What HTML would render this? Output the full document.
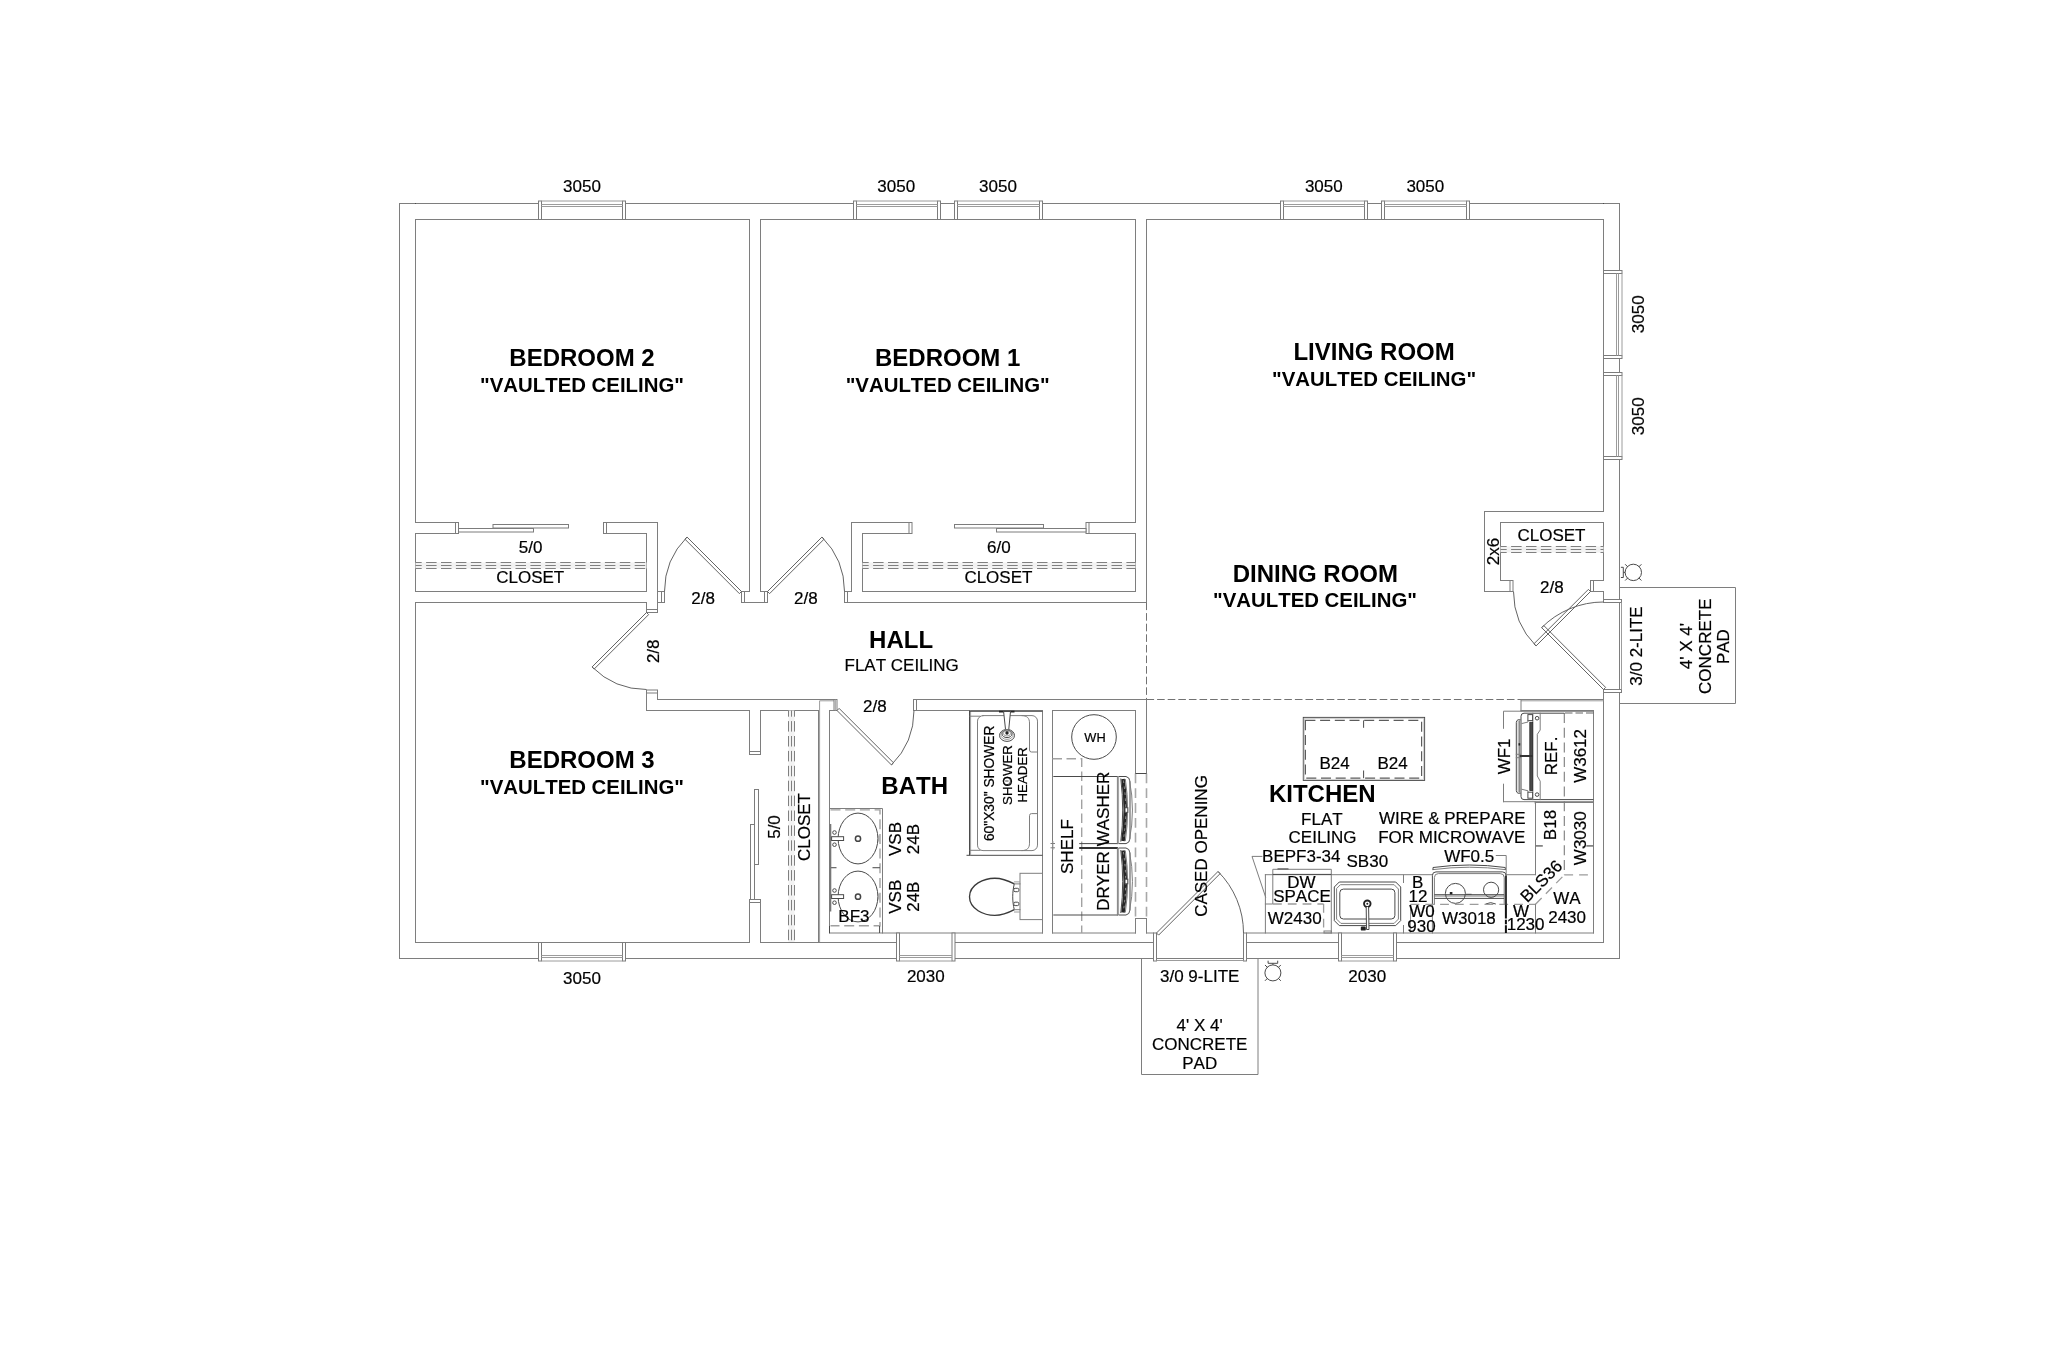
<!DOCTYPE html>
<html><head><meta charset="utf-8"><title>Floor Plan</title>
<style>
html,body{margin:0;padding:0;background:#fff;}
body{width:2048px;height:1347px;overflow:hidden;font-family:"Liberation Sans",sans-serif;}
svg{display:block;filter:grayscale(1);}
.l{stroke:#7e7e7e;stroke-width:1;fill:none;stroke-linecap:square;}
.kd{stroke:#646464;stroke-width:1;fill:none;}
.k{stroke:#4a4a4a;stroke-width:1;fill:none;}
.gl{stroke:#cfcfcf;stroke-width:1;fill:none;}
.g{stroke:#9c9c9c;stroke-width:1;fill:none;}
.d{stroke:#727272;stroke-width:1;fill:none;stroke-dasharray:7.6 3;}
.dg{stroke:#a8a8a8;stroke-width:1.6;fill:none;stroke-dasharray:9.8 5;}
.rod{stroke:#808080;stroke-width:1;fill:none;stroke-dasharray:10.5 4.4;}
.rf{stroke:none;fill:#f2f2f2;}
.w{stroke:#7c7c7c;stroke-width:1;fill:#fff;}
.wk{stroke:#4a4a4a;stroke-width:1;fill:#fff;}
.fk{stroke:none;fill:#222;}
.fg{stroke:#2a2a2a;stroke-width:0.8;fill:#4a4a4a;}
.kk{stroke:#222;stroke-width:1.8;fill:none;}
.thick{stroke:#262626;stroke-width:3.6;fill:none;}
.spk{stroke:#bbb;stroke-width:0.7;fill:none;stroke-dasharray:2.5 3.5;}
.thick2{stroke:#333;stroke-width:2;fill:none;}
.seat{stroke:#3a3a3a;stroke-width:1.35;fill:none;}
.bs{stroke:#777;stroke-width:2;fill:none;}
.dv{stroke:#a0a0a0;stroke-width:1.4;fill:none;stroke-dasharray:10 4.7;}
.dvi{stroke:#5c5c5c;stroke-width:1.2;fill:none;stroke-dasharray:10 4.7;}
.ring{stroke:#444;stroke-width:1.5;fill:none;}
.dv2{stroke:#555;stroke-width:1.1;fill:none;}
.dg2{stroke:#a2a2a2;stroke-width:1.4;fill:none;stroke-dasharray:9.5 4.5;}
.dl{stroke:#9c9c9c;stroke-width:1.3;fill:none;stroke-dasharray:8.8 6;}
.thick3{stroke:#777;stroke-width:1.6;fill:none;}
.dk{stroke:#666;stroke-width:1.2;fill:none;stroke-dasharray:7.5 3;}
.dlong{stroke:#7c7c7c;stroke-width:1.1;fill:none;stroke-dasharray:10 4.7;}
.tkd{stroke:#111;stroke-width:2;fill:none;stroke-dasharray:14.2 1.3 4.4 1;}
.t{font-family:"Liberation Sans",sans-serif;fill:#000;font-kerning:none;stroke:#000;stroke-width:0.2;}
.b{font-family:"Liberation Sans",sans-serif;font-weight:bold;fill:#000;font-kerning:none;}
</style></head>
<body>
<svg width="2048" height="1347" viewBox="0 0 2048 1347">
<rect x="0" y="0" width="2048" height="1347" fill="#fff"/>
<line class="l" x1="399.5" y1="203.5" x2="538.5" y2="203.5"/>
<line class="l" x1="625.5" y1="203.5" x2="853.5" y2="203.5"/>
<line class="l" x1="940.5" y1="203.5" x2="954.5" y2="203.5"/>
<line class="l" x1="1042.5" y1="203.5" x2="1280.5" y2="203.5"/>
<line class="l" x1="1367.5" y1="203.5" x2="1381.5" y2="203.5"/>
<line class="l" x1="1469.5" y1="203.5" x2="1619.5" y2="203.5"/>
<line class="l" x1="399.5" y1="958.5" x2="538.5" y2="958.5"/>
<line class="l" x1="625.5" y1="958.5" x2="896.5" y2="958.5"/>
<line class="l" x1="955" y1="958.5" x2="1153.5" y2="958.5"/>
<line class="l" x1="1246.5" y1="958.5" x2="1338.5" y2="958.5"/>
<line class="l" x1="1396.5" y1="958.5" x2="1619.5" y2="958.5"/>
<line class="l" x1="399.5" y1="203.5" x2="399.5" y2="958.5"/>
<line class="l" x1="1619.5" y1="203.5" x2="1619.5" y2="270.5"/>
<line class="l" x1="1619.5" y1="358.5" x2="1619.5" y2="372.5"/>
<line class="l" x1="1619.5" y1="459.5" x2="1619.5" y2="958.5"/>
<line class="k" x1="415.5" y1="203" x2="415.5" y2="204"/>
<line class="k" x1="1603.5" y1="203" x2="1603.5" y2="204"/>
<line class="l" x1="415.5" y1="219.5" x2="415.5" y2="522.5"/>
<line class="l" x1="415.5" y1="219.5" x2="749.5" y2="219.5"/>
<line class="l" x1="749.5" y1="219.5" x2="749.5" y2="591.5"/>
<line class="l" x1="415.5" y1="522.5" x2="458.5" y2="522.5"/>
<rect class="w" x="455.5" y="522.5" width="3" height="11"/>
<line class="l" x1="415.5" y1="533.5" x2="455.5" y2="533.5"/>
<line class="l" x1="415.5" y1="533.5" x2="415.5" y2="591.5"/>
<line class="l" x1="415.5" y1="591.5" x2="646.5" y2="591.5"/>
<line class="l" x1="646.5" y1="533.5" x2="646.5" y2="591.5"/>
<line class="l" x1="606.5" y1="533.5" x2="646.5" y2="533.5"/>
<rect class="w" x="603.5" y="522.5" width="3" height="11"/>
<line class="l" x1="606.5" y1="522.5" x2="657.5" y2="522.5"/>
<line class="l" x1="657.5" y1="522.5" x2="657.5" y2="612.5"/>
<rect class="w" x="458.5" y="528.5" width="75" height="3.5"/>
<rect class="w" x="493" y="524.5" width="75.5" height="3.5"/>
<rect class="rf" x="415.5" y="562.5" width="231" height="6"/>
<line class="rod" x1="415.5" y1="562.5" x2="646.5" y2="562.5" stroke-dashoffset="4.3"/>
<line class="rod" x1="415.5" y1="565.5" x2="646.5" y2="565.5" stroke-dashoffset="4.3"/>
<line class="rod" x1="415.5" y1="568.5" x2="646.5" y2="568.5" stroke-dashoffset="4.3"/>
<line class="l" x1="657.5" y1="591.5" x2="664.5" y2="591.5"/>
<line class="l" x1="657.5" y1="602.5" x2="664.5" y2="602.5"/>
<rect class="w" x="661.5" y="591.5" width="3" height="11"/>
<rect class="w" x="741.5" y="591.5" width="3" height="11"/>
<line class="l" x1="744.5" y1="591.5" x2="749.5" y2="591.5"/>
<line class="l" x1="744.5" y1="602.5" x2="764.5" y2="602.5"/>
<rect class="w" x="764.5" y="591.5" width="3" height="11"/>
<line class="l" x1="760.5" y1="591.5" x2="764.5" y2="591.5"/>
<path class="kd" d="M741.5 591.5 L687.05 537.05 L684.93 539.17 L739.38 593.62 Z"/>
<path class="kd" d="M687.05 537.05 A77 77 0 0 0 664.5 591.5"/>
<line class="l" x1="646.5" y1="602.5" x2="646.5" y2="612.5"/>
<rect class="w" x="646.5" y="609.5" width="11" height="3"/>
<line class="l" x1="415.5" y1="602.5" x2="646.5" y2="602.5"/>
<line class="l" x1="760.5" y1="219.5" x2="760.5" y2="591.5"/>
<line class="l" x1="760.5" y1="219.5" x2="1135.5" y2="219.5"/>
<line class="l" x1="1135.5" y1="219.5" x2="1135.5" y2="522.5"/>
<line class="l" x1="1089" y1="522.5" x2="1135.5" y2="522.5"/>
<rect class="w" x="1086" y="522.5" width="3" height="11"/>
<line class="l" x1="1089" y1="533.5" x2="1135.5" y2="533.5"/>
<line class="l" x1="1135.5" y1="533.5" x2="1135.5" y2="591.5"/>
<line class="l" x1="862.5" y1="591.5" x2="1135.5" y2="591.5"/>
<line class="l" x1="862.5" y1="533.5" x2="862.5" y2="591.5"/>
<line class="l" x1="862.5" y1="533.5" x2="909" y2="533.5"/>
<rect class="w" x="909" y="522.5" width="3" height="11"/>
<line class="l" x1="851.5" y1="522.5" x2="909" y2="522.5"/>
<line class="l" x1="851.5" y1="522.5" x2="851.5" y2="591.5"/>
<line class="l" x1="847.5" y1="591.5" x2="851.5" y2="591.5"/>
<rect class="w" x="844.5" y="591.5" width="3" height="11"/>
<line class="l" x1="847.5" y1="602.5" x2="1146.5" y2="602.5"/>
<rect class="w" x="954.5" y="524.5" width="89" height="3.5"/>
<rect class="w" x="996.5" y="528.5" width="89.5" height="3.5"/>
<rect class="rf" x="862.5" y="562.5" width="273" height="6"/>
<line class="rod" x1="862.5" y1="562.5" x2="1135.5" y2="562.5" stroke-dashoffset="4.3"/>
<line class="rod" x1="862.5" y1="565.5" x2="1135.5" y2="565.5" stroke-dashoffset="4.3"/>
<line class="rod" x1="862.5" y1="568.5" x2="1135.5" y2="568.5" stroke-dashoffset="4.3"/>
<path class="kd" d="M767.5 591.5 L821.95 537.05 L824.07 539.17 L769.62 593.62 Z"/>
<path class="kd" d="M821.95 537.05 A77 77 0 0 1 844.5 591.5"/>
<line class="l" x1="1146.5" y1="219.5" x2="1146.5" y2="602.5"/>
<line class="d" x1="1146.5" y1="602.5" x2="1146.5" y2="699.5"/>
<line class="l" x1="1146.5" y1="219.5" x2="1603.5" y2="219.5"/>
<line class="l" x1="1603.5" y1="219.5" x2="1603.5" y2="511.5"/>
<line class="l" x1="1484.5" y1="511.5" x2="1603.5" y2="511.5"/>
<line class="l" x1="1484.5" y1="511.5" x2="1484.5" y2="591.5"/>
<line class="l" x1="1484.5" y1="591.5" x2="1510" y2="591.5"/>
<rect class="w" x="1510" y="580.5" width="3" height="11"/>
<line class="l" x1="1500.5" y1="580.5" x2="1510" y2="580.5"/>
<line class="l" x1="1500.5" y1="522.5" x2="1500.5" y2="580.5"/>
<line class="l" x1="1500.5" y1="522.5" x2="1603.5" y2="522.5"/>
<line class="l" x1="1603.5" y1="522.5" x2="1603.5" y2="580.5"/>
<line class="l" x1="1593.5" y1="580.5" x2="1603.5" y2="580.5"/>
<rect class="w" x="1590.5" y="580.5" width="3" height="11"/>
<line class="l" x1="1593.5" y1="591.5" x2="1603.5" y2="591.5"/>
<line class="l" x1="1603.5" y1="591.5" x2="1603.5" y2="599.5"/>
<rect class="rf" x="1500.5" y="546.5" width="103" height="6"/>
<line class="rod" x1="1500.5" y1="546.5" x2="1603.5" y2="546.5" stroke-dashoffset="4.3"/>
<line class="rod" x1="1500.5" y1="549.5" x2="1603.5" y2="549.5" stroke-dashoffset="4.3"/>
<line class="rod" x1="1500.5" y1="552.5" x2="1603.5" y2="552.5" stroke-dashoffset="4.3"/>
<path class="kd" d="M1590.5 591.5 L1536.05 645.95 L1533.93 643.83 L1588.38 589.38 Z"/>
<path class="kd" d="M1536.05 645.95 A77 77 0 0 1 1513.5 591.5"/>
<rect class="w" x="1603.5" y="599.5" width="18" height="3"/>
<rect class="w" x="1603.5" y="689.5" width="18" height="3"/>
<line class="g" x1="1621.5" y1="602.5" x2="1621.5" y2="689.5"/>
<path class="kd" d="M1603.5 689.5 L1541.63 627.63 L1543.75 625.51 L1605.62 687.38 Z"/>
<path class="kd" d="M1541.63 627.63 A87.5 87.5 0 0 1 1603.5 602"/>
<line class="l" x1="1603.5" y1="692.5" x2="1603.5" y2="942.5"/>
<line class="d" x1="1146.5" y1="699.5" x2="1521" y2="699.5"/>
<line class="l" x1="1521" y1="699.5" x2="1603.5" y2="699.5"/>
<line class="g" x1="1521" y1="700.8" x2="1603.5" y2="700.8"/>
<line class="l" x1="1521" y1="699.5" x2="1521" y2="710.5"/>
<line class="l" x1="415.5" y1="602.5" x2="415.5" y2="942.5"/>
<line class="l" x1="415.5" y1="942.5" x2="749.5" y2="942.5"/>
<rect class="w" x="646.5" y="690" width="11" height="3"/>
<line class="l" x1="657.5" y1="693" x2="657.5" y2="699.5"/>
<line class="l" x1="657.5" y1="699.5" x2="834" y2="699.5"/>
<line class="l" x1="646.5" y1="693" x2="646.5" y2="710.5"/>
<line class="l" x1="646.5" y1="710.5" x2="749.5" y2="710.5"/>
<path class="kd" d="M646.5 612.5 L592.05 666.95 L594.17 669.07 L648.62 614.62 Z"/>
<path class="kd" d="M592.05 666.95 A77 77 0 0 0 646.5 689.5"/>
<line class="l" x1="749.5" y1="710.5" x2="749.5" y2="751.5"/>
<line class="l" x1="760.5" y1="710.5" x2="760.5" y2="751.5"/>
<rect class="w" x="749.5" y="751.5" width="11" height="3"/>
<rect class="w" x="749.5" y="899.5" width="11" height="3"/>
<line class="l" x1="749.5" y1="902.5" x2="749.5" y2="942.5"/>
<line class="l" x1="760.5" y1="902.5" x2="760.5" y2="942.5"/>
<rect class="w" x="754.5" y="789.5" width="4" height="75"/>
<rect class="w" x="750.5" y="824.5" width="4" height="75"/>
<line class="l" x1="760.5" y1="710.5" x2="818.5" y2="710.5"/>
<line class="l" x1="818.5" y1="710.5" x2="818.5" y2="942.5"/>
<line class="g" x1="819.6" y1="700.8" x2="819.6" y2="942.5"/>
<rect class="rf" x="788.5" y="710.5" width="6" height="232"/>
<line class="rod" x1="788.5" y1="710.5" x2="788.5" y2="942.5" stroke-dashoffset="4.3"/>
<line class="rod" x1="791.5" y1="710.5" x2="791.5" y2="942.5" stroke-dashoffset="4.3"/>
<line class="rod" x1="794.5" y1="710.5" x2="794.5" y2="942.5" stroke-dashoffset="4.3"/>
<line class="l" x1="760.5" y1="942.5" x2="896.5" y2="942.5"/>
<line class="l" x1="955" y1="942.5" x2="1153.5" y2="942.5"/>
<line class="l" x1="1246.5" y1="942.5" x2="1338.5" y2="942.5"/>
<line class="l" x1="1396.5" y1="942.5" x2="1603.5" y2="942.5"/>
<line class="g" x1="819.6" y1="700.8" x2="834" y2="700.8"/>
<rect class="w" x="834" y="699.5" width="3" height="11"/>
<line class="g" x1="835.3" y1="699.5" x2="835.3" y2="710.5"/>
<line class="l" x1="829.5" y1="710.5" x2="834" y2="710.5"/>
<line class="l" x1="829.5" y1="710.5" x2="829.5" y2="933"/>
<line class="l" x1="829.5" y1="933" x2="1042.5" y2="933"/>
<line class="l" x1="1042.5" y1="710.5" x2="1042.5" y2="933"/>
<rect class="w" x="913.5" y="699.5" width="3" height="11"/>
<line class="l" x1="916.5" y1="699.5" x2="1146.5" y2="699.5"/>
<line class="l" x1="916.5" y1="710.5" x2="1042.5" y2="710.5"/>
<path class="kd" d="M837 710.5 L891.45 764.95 L893.57 762.83 L839.12 708.38 Z"/>
<path class="kd" d="M891.45 764.95 A77 77 0 0 0 914 710.5"/>
<line class="l" x1="1052.5" y1="710.5" x2="1135.5" y2="710.5"/>
<line class="l" x1="1052.5" y1="710.5" x2="1052.5" y2="933"/>
<line class="l" x1="1052.5" y1="933" x2="1135.5" y2="933"/>
<line class="l" x1="1135.5" y1="710.5" x2="1135.5" y2="773.5"/>
<line class="dg" x1="1135.5" y1="773.5" x2="1135.5" y2="918.5"/>
<line class="l" x1="1135.5" y1="918.5" x2="1135.5" y2="933"/>
<line class="l" x1="1146.5" y1="699.5" x2="1146.5" y2="773.5"/>
<line class="dg" x1="1146.5" y1="773.5" x2="1146.5" y2="918.5"/>
<line class="l" x1="1146.5" y1="918.5" x2="1146.5" y2="933"/>
<line class="k" x1="1135.5" y1="773.5" x2="1146.5" y2="773.5"/>
<line class="l" x1="1135.5" y1="918.5" x2="1146.5" y2="918.5"/>
<line class="l" x1="1146.5" y1="933" x2="1153.5" y2="933"/>
<rect class="w" x="1153.5" y="933" width="3" height="28"/>
<rect class="w" x="1243.5" y="933" width="3" height="28"/>
<line class="l" x1="1156.5" y1="958.5" x2="1243.5" y2="958.5"/>
<line class="g" x1="1156.5" y1="960.5" x2="1243.5" y2="960.5"/>
<path class="kd" d="M1156.5 933 L1218.02 871.48 L1220.14 873.6 L1158.62 935.12 Z"/>
<path class="kd" d="M1218.02 871.48 A87 87 0 0 1 1243.5 933"/>
<line class="l" x1="1246.5" y1="933" x2="1593.5" y2="933"/>
<line class="l" x1="1593.5" y1="710.5" x2="1593.5" y2="933"/>
<line class="l" x1="1521" y1="710.5" x2="1593.5" y2="710.5"/>
<rect class="w" x="538.5" y="201" width="3" height="18.5"/>
<rect class="w" x="622.5" y="201" width="3" height="18.5"/>
<line class="g" x1="541.5" y1="201" x2="622.5" y2="201"/>
<line class="g" x1="541.5" y1="204.5" x2="622.5" y2="204.5"/>
<line class="g" x1="541.5" y1="206.5" x2="622.5" y2="206.5"/>
<rect class="w" x="853.5" y="201" width="3" height="18.5"/>
<rect class="w" x="937.5" y="201" width="3" height="18.5"/>
<line class="g" x1="856.5" y1="201" x2="937.5" y2="201"/>
<line class="g" x1="856.5" y1="204.5" x2="937.5" y2="204.5"/>
<line class="g" x1="856.5" y1="206.5" x2="937.5" y2="206.5"/>
<rect class="w" x="954.5" y="201" width="3" height="18.5"/>
<rect class="w" x="1039.5" y="201" width="3" height="18.5"/>
<line class="g" x1="957.5" y1="201" x2="1039.5" y2="201"/>
<line class="g" x1="957.5" y1="204.5" x2="1039.5" y2="204.5"/>
<line class="g" x1="957.5" y1="206.5" x2="1039.5" y2="206.5"/>
<rect class="w" x="1280.5" y="201" width="3" height="18.5"/>
<rect class="w" x="1364.5" y="201" width="3" height="18.5"/>
<line class="g" x1="1283.5" y1="201" x2="1364.5" y2="201"/>
<line class="g" x1="1283.5" y1="204.5" x2="1364.5" y2="204.5"/>
<line class="g" x1="1283.5" y1="206.5" x2="1364.5" y2="206.5"/>
<rect class="w" x="1381.5" y="201" width="3" height="18.5"/>
<rect class="w" x="1466.5" y="201" width="3" height="18.5"/>
<line class="g" x1="1384.5" y1="201" x2="1466.5" y2="201"/>
<line class="g" x1="1384.5" y1="204.5" x2="1466.5" y2="204.5"/>
<line class="g" x1="1384.5" y1="206.5" x2="1466.5" y2="206.5"/>
<rect class="w" x="538.5" y="942.5" width="3" height="18.5"/>
<rect class="w" x="622.5" y="942.5" width="3" height="18.5"/>
<line class="g" x1="541.5" y1="961" x2="622.5" y2="961"/>
<line class="g" x1="541.5" y1="957.5" x2="622.5" y2="957.5"/>
<line class="g" x1="541.5" y1="955.5" x2="622.5" y2="955.5"/>
<rect class="w" x="896.5" y="933" width="3" height="28"/>
<rect class="w" x="952" y="933" width="3" height="28"/>
<line class="g" x1="899.5" y1="961" x2="952" y2="961"/>
<line class="g" x1="899.5" y1="957.5" x2="952" y2="957.5"/>
<line class="g" x1="899.5" y1="955.5" x2="952" y2="955.5"/>
<rect class="w" x="1338.5" y="933" width="3" height="28"/>
<rect class="w" x="1393.5" y="933" width="3" height="28"/>
<line class="g" x1="1341.5" y1="961" x2="1393.5" y2="961"/>
<line class="g" x1="1341.5" y1="957.5" x2="1393.5" y2="957.5"/>
<line class="g" x1="1341.5" y1="955.5" x2="1393.5" y2="955.5"/>
<rect class="w" x="1603.5" y="270.5" width="18.5" height="3"/>
<rect class="w" x="1603.5" y="355.5" width="18.5" height="3"/>
<line class="g" x1="1622" y1="273.5" x2="1622" y2="355.5"/>
<line class="g" x1="1618.5" y1="273.5" x2="1618.5" y2="355.5"/>
<line class="g" x1="1616.5" y1="273.5" x2="1616.5" y2="355.5"/>
<rect class="w" x="1603.5" y="372.5" width="18.5" height="3"/>
<rect class="w" x="1603.5" y="456.5" width="18.5" height="3"/>
<line class="g" x1="1622" y1="375.5" x2="1622" y2="456.5"/>
<line class="g" x1="1618.5" y1="375.5" x2="1618.5" y2="456.5"/>
<line class="g" x1="1616.5" y1="375.5" x2="1616.5" y2="456.5"/>
<path class="l" d="M1141.5 958.5 L1141.5 1074.5 L1258 1074.5 L1258 958.5"/>
<line class="l" x1="1141.5" y1="958.5" x2="1153.5" y2="958.5"/>
<line class="l" x1="1246.5" y1="958.5" x2="1258" y2="958.5"/>
<path class="l" d="M1619.5 587.5 L1735.5 587.5 L1735.5 703.5 L1619.5 703.5"/>
<path class="l" d="M829.5 808.5 L882.5 808.5 L882.5 933"/>
<path class="dv" d="M830.5 809.9 L880 809.9 L880 925.7 L830.5 925.7"/>
<line class="k" x1="879.6" y1="926" x2="879.6" y2="933"/>
<line class="k" x1="829.5" y1="926" x2="829.5" y2="933"/>
<line class="dv2" x1="831" y1="867.7" x2="836.5" y2="867.7"/>
<line class="dv2" x1="872.5" y1="867.7" x2="880" y2="867.7"/>
<line class="bs" x1="830.3" y1="824" x2="830.3" y2="911.5"/>
<ellipse class="k" cx="858" cy="838.5" rx="19.9" ry="25.4"/>
<circle class="ring" cx="858" cy="838.7" r="2.6"/>
<rect class="wk" x="831.6" y="836.7" width="12" height="3.8"/>
<circle class="k" cx="834.5" cy="832.5" r="1.8"/>
<circle class="k" cx="834.5" cy="844.7" r="1.8"/>
<line class="g" x1="878.8" y1="835.5" x2="878.8" y2="841.5"/>
<ellipse class="k" cx="858" cy="896.5" rx="19.9" ry="25.4"/>
<circle class="ring" cx="858" cy="896.7" r="2.6"/>
<rect class="wk" x="831.6" y="894.7" width="12" height="3.8"/>
<circle class="k" cx="834.5" cy="890.5" r="1.8"/>
<circle class="k" cx="834.5" cy="902.7" r="1.8"/>
<line class="g" x1="878.8" y1="893.5" x2="878.8" y2="899.5"/>
<rect class="l" x="1020" y="873.3" width="22.5" height="46.3"/>
<path class="seat" d="M1014.3 883.9 C1008 880.5 1001 878.2 994.8 878.2 C984 878.2 969.5 884.5 969.5 896.8 C969.5 909.1 984 915.4 994.8 915.4 C1001 915.4 1008 913.1 1014.3 909.7"/>
<path class="k" d="M1014.3 883.9 C1012.2 892 1012.2 901.6 1014.3 909.7"/>
<path class="l" d="M1014.3 883.9 L1020 883.9 M1014.3 909.7 L1020 909.7"/>
<line class="g" x1="1014" y1="881.9" x2="1020" y2="881.9"/>
<line class="g" x1="1014" y1="912" x2="1020" y2="912"/>
<rect class="wk" x="1013.8" y="888.3" width="5" height="3.4" rx="1.3"/>
<rect class="wk" x="1013.8" y="902.2" width="5" height="3.4" rx="1.3"/>
<line class="k" x1="966.5" y1="855.3" x2="1042.5" y2="855.3"/>
<line class="k" x1="969.5" y1="710.5" x2="969.5" y2="855.3"/>
<line class="g" x1="970.6" y1="710.5" x2="970.6" y2="855.3"/>
<line class="k" x1="969.5" y1="711.3" x2="1042.5" y2="711.3"/>
<line class="l" x1="970" y1="716.2" x2="980" y2="716.2"/>
<line class="l" x1="970" y1="850.3" x2="980" y2="850.3"/>
<rect class="l" x="977.5" y="715.6" width="60" height="135" rx="5.5"/>
<path class="l" d="M1022 715.6 C1027 715.6 1029.5 718 1029.5 723 L1029.5 750 Q1029.5 752 1031.5 752 L1037.5 752"/>
<path class="l" d="M1022 850.6 C1027 850.6 1029.5 848.2 1029.5 843.2 L1029.5 815.6 Q1029.5 813.6 1031.5 813.6 L1037.5 813.6"/>
<line class="kk" x1="999" y1="711.6" x2="1014.5" y2="711.6"/>
<path class="wk" d="M1003.6 711.5 L1010.5 711.5 L1008.6 731 L1005.7 731 Z"/>
<ellipse class="k" cx="1007" cy="735.4" rx="7.5" ry="6"/>
<ellipse class="g" cx="1007" cy="734.6" rx="6.2" ry="4.8"/>
<ellipse class="k" cx="1007" cy="733.9" rx="5" ry="3.7"/>
<ellipse class="g" cx="1007" cy="733.3" rx="3.6" ry="2.7"/>
<circle class="fk" cx="1007" cy="733" r="1.7"/>
<circle class="k" cx="1006.8" cy="781" r="3.7"/>
<line class="k" x1="1005.2" y1="781" x2="1008.5" y2="781"/>
<circle class="k" cx="1094" cy="737" r="22.3"/>
<path class="dg2" d="M1052.5 758.8 L1081.7 758.8 L1081.7 933"/>
<line class="k" x1="1053.3" y1="776.5" x2="1118" y2="776.5"/>
<line class="k" x1="1079.2" y1="843.6" x2="1118" y2="843.6"/>
<line class="l" x1="1117.4" y1="776.5" x2="1117.4" y2="843.6"/>
<line class="g" x1="1118.6" y1="776.5" x2="1118.6" y2="843.6"/>
<path class="k" d="M1118.5 776.5 L1126 776.5 Q1129.5 777 1130 781.5 L1130 838.6 Q1129.5 843.1 1126 843.6 L1118.5 843.6"/>
<path class="l" d="M1129.5 780.5 Q1135.5 810.05 1129.5 839.6"/>
<path class="thick" d="M1123 779 Q1127.6 810.05 1123 841.1"/>
<path class="spk" d="M1123.4 780.5 Q1128 810.05 1123.4 839.6"/>
<path class="k" d="M1120.8 778.5 Q1124.6 810.05 1120.8 841.6"/>
<path class="l" d="M1125.4 779.5 Q1130 810.05 1125.4 840.6"/>
<rect class="wk" x="1125" y="807.75" width="2.8" height="4.6"/>
<line class="thick2" x1="1079.2" y1="848" x2="1118" y2="848"/>
<line class="k" x1="1053.3" y1="915" x2="1118" y2="915"/>
<line class="l" x1="1117.4" y1="848" x2="1117.4" y2="915"/>
<line class="g" x1="1118.6" y1="848" x2="1118.6" y2="915"/>
<path class="k" d="M1118.5 848 L1126 848 Q1129.5 848.5 1130 853 L1130 910 Q1129.5 914.5 1126 915 L1118.5 915"/>
<path class="l" d="M1129.5 852 Q1135.5 881.5 1129.5 911"/>
<path class="thick" d="M1123 850.5 Q1127.6 881.5 1123 912.5"/>
<path class="spk" d="M1123.4 852 Q1128 881.5 1123.4 911"/>
<path class="k" d="M1120.8 850 Q1124.6 881.5 1120.8 913"/>
<path class="l" d="M1125.4 851 Q1130 881.5 1125.4 912"/>
<rect class="wk" x="1125" y="879.2" width="2.8" height="4.6"/>
<line class="g" x1="1052.9" y1="841" x2="1052.9" y2="850"/>
<line class="l" x1="1051" y1="843.5" x2="1054.5" y2="843.5"/>
<line class="l" x1="1051" y1="847.8" x2="1054.5" y2="847.8"/>
<rect class="k" x="1303.3" y="717.4" width="121.3" height="63"/>
<rect class="gl" x="1304.3" y="718.4" width="119.3" height="61"/>
<rect class="dvi" x="1305.4" y="720.4" width="116.2" height="57.8"/>
<line class="k" x1="1363.6" y1="720.4" x2="1363.6" y2="727.8"/>
<line class="k" x1="1363.6" y1="770.5" x2="1363.6" y2="778.2"/>
<line class="l" x1="1265.4" y1="874.7" x2="1265.4" y2="933"/>
<line class="l" x1="1265.4" y1="874.7" x2="1432.3" y2="874.7"/>
<line class="l" x1="1506.2" y1="874.7" x2="1535.5" y2="874.7"/>
<line class="l" x1="1535.5" y1="802.5" x2="1535.5" y2="874.7"/>
<line class="l" x1="1535.5" y1="802.5" x2="1593.5" y2="802.5"/>
<path class="l" d="M1265.4 904 L1272.8 904 L1272.8 869.3 L1331.3 869.3 L1331.3 933"/>
<line class="k" x1="1272.8" y1="874.4" x2="1331.3" y2="874.4"/>
<line class="dl" x1="1273" y1="904" x2="1323.6" y2="904"/>
<line class="dl" x1="1323.6" y1="904" x2="1323.6" y2="933"/>
<rect class="l" x="1324" y="931" width="7.3" height="2"/>
<line class="k" x1="1277.5" y1="868.9" x2="1288.5" y2="868.9"/>
<path class="l" d="M1261.9 856.4 L1252 856.4 L1265.6 897"/>
<path class="k" d="M1339.3 882 L1395.7 882 L1400.7 887 L1400.7 920.6 L1395.7 925.6 L1339.3 925.6 L1334.3 920.6 L1334.3 887 Z"/>
<path class="l" d="M1340.9 884.7 L1394.1 884.7 L1398.4 889 L1398.4 919.1 L1394.1 923.4 L1340.9 923.4 L1336.6 919.1 L1336.6 889 Z"/>
<rect class="k" x="1339.8" y="889.1" width="55.1" height="29.9" rx="3.6"/>
<circle class="kk" cx="1367.3" cy="903.8" r="3.3"/>
<circle class="fk" cx="1367.3" cy="903.8" r="1"/>
<path class="wk" d="M1366.2 907 L1366.5 929.5 L1369 929.5 L1368.6 907"/>
<rect class="fk" x="1360.8" y="926.6" width="5" height="4" rx="1.2"/>
<line class="l" x1="1403.5" y1="875" x2="1403.5" y2="882.5"/>
<line class="l" x1="1403.5" y1="925.5" x2="1403.5" y2="933"/>
<path class="k" d="M1433 867.5 Q1469.5 862.5 1505.3 867.5"/>
<path class="l" d="M1433 869.6 Q1469.5 864.8 1505.3 869.6"/>
<line class="k" x1="1433" y1="867.5" x2="1433" y2="869.8"/>
<line class="k" x1="1505.3" y1="867.5" x2="1505.3" y2="869.8"/>
<path class="k" d="M1432.4 904.3 L1432.4 875.5 Q1432.4 871.9 1436 871.9 L1502.5 871.9 Q1506.1 871.9 1506.1 875.5 L1506.1 904.3"/>
<path class="l" d="M1434.4 904.3 L1434.4 877.5 Q1434.4 873.6 1438.4 873.6 L1500.2 873.6 Q1504.2 873.6 1504.2 877.5 L1504.2 904.3"/>
<line class="k" x1="1434.4" y1="894.7" x2="1504.2" y2="894.7"/>
<line class="l" x1="1434.4" y1="896" x2="1504.2" y2="896"/>
<line class="k" x1="1434.4" y1="898.4" x2="1504.2" y2="898.4"/>
<circle class="k" cx="1455.4" cy="893.4" r="10"/>
<circle class="k" cx="1491.1" cy="889.8" r="7.6"/>
<rect class="fk" x="1449.8" y="892" width="2.6" height="2.4"/>
<line class="k" x1="1466" y1="894.3" x2="1471.6" y2="894.3"/>
<path class="k" d="M1485.6 904 Q1490.7 901.3 1495.8 904"/>
<line class="l" x1="1432.4" y1="904.3" x2="1432.4" y2="933"/>
<line class="dl" x1="1410.5" y1="904.3" x2="1535.5" y2="904.3"/>
<line class="g" x1="1410.5" y1="904.3" x2="1410.5" y2="933"/>
<line class="tkd" x1="1505.9" y1="904.3" x2="1505.9" y2="933"/>
<line class="thick2" x1="1505.9" y1="875.5" x2="1505.9" y2="904.3"/>
<line class="l" x1="1535.5" y1="904.3" x2="1535.5" y2="933"/>
<line class="dl" x1="1535.5" y1="904.3" x2="1564.3" y2="874.9"/>
<line class="dl" x1="1564.3" y1="874.9" x2="1593.5" y2="874.9"/>
<line class="dlong" x1="1564.3" y1="713" x2="1564.3" y2="874.9"/>
<path class="l" d="M1496.3 855.5 L1506.2 855.5 L1506.2 875"/>
<line class="thick3" x1="1535.5" y1="845.9" x2="1542.8" y2="845.9"/>
<line class="thick3" x1="1586.3" y1="845.9" x2="1593.5" y2="845.9"/>
<line class="l" x1="1503.5" y1="801.7" x2="1593.5" y2="801.7"/>
<path class="l" d="M1521 711.2 L1503.5 711.2 L1503.5 728.3"/>
<line class="l" x1="1503.5" y1="784.2" x2="1503.5" y2="801.7"/>
<line class="l" x1="1521" y1="711.3" x2="1593.5" y2="711.3"/>
<line class="dk" x1="1565" y1="713" x2="1593.5" y2="713"/>
<path class="k" d="M1564.3 713.2 L1524 713.2 Q1521 713.2 1521 716.2 L1521 796.6 Q1521 799.6 1524 799.6 L1593.5 799.6"/>
<line class="l" x1="1532.8" y1="713.2" x2="1532.8" y2="799.6"/>
<path class="l" d="M1540.2 713.2 L1540.2 730 L1537.3 734.3 L1537.3 776 L1540.2 781.2 L1540.2 799.6"/>
<circle class="k" cx="1537.1" cy="718.2" r="1.8"/>
<circle class="k" cx="1537.1" cy="794.6" r="1.8"/>
<rect class="fg" x="1529.8" y="722.3" width="2.9" height="68.3"/>
<rect class="wk" x="1527.9" y="714.6" width="4.7" height="6"/>
<rect class="wk" x="1527.9" y="792.2" width="4.7" height="6"/>
<path class="l" d="M1528 720.6 L1528 722 L1522 723.5 M1528 792.2 L1528 790.8 L1522 789.3"/>
<path class="k" d="M1520.6 719.8 L1518 719.8 Q1516.3 720.5 1516.3 722.5 L1516.3 790.5 Q1516.3 792.5 1518 793.2 L1520.6 793.2"/>
<line class="g" x1="1518.2" y1="721" x2="1518.2" y2="792"/>
<line class="l" x1="1519.6" y1="721" x2="1519.6" y2="792"/>
<line class="thick2" x1="1519.7" y1="756" x2="1532.7" y2="756"/>
<line class="l" x1="1516.3" y1="754.3" x2="1520.6" y2="754.3"/>
<line class="l" x1="1516.3" y1="757.7" x2="1520.6" y2="757.7"/>
<rect class="fk" x="1518.5" y="743.2" width="1.7" height="2.3"/>
<line class="l" x1="1535.1" y1="801.7" x2="1535.1" y2="803"/>
<circle class="k" cx="1633.3" cy="572.4" r="8.2"/>
<line class="k" x1="1627.89" y1="566.99" x2="1625.18" y2="564.28"/>
<line class="k" x1="1627.89" y1="577.81" x2="1625.18" y2="580.52"/>
<line class="k" x1="1638.71" y1="566.99" x2="1641.42" y2="564.28"/>
<line class="k" x1="1638.71" y1="577.81" x2="1641.42" y2="580.52"/>
<line class="k" x1="1623.5" y1="572.4" x2="1625.1" y2="572.4"/>
<path class="k" d="M1620.9 567.3 L1623.3 567.3 L1623.3 577.5 L1620.9 577.5"/>
<circle class="k" cx="1272.9" cy="972.9" r="8"/>
<line class="k" x1="1267.62" y1="967.62" x2="1264.98" y2="964.98"/>
<line class="k" x1="1267.62" y1="978.18" x2="1264.98" y2="980.82"/>
<line class="k" x1="1278.18" y1="967.62" x2="1280.82" y2="964.98"/>
<line class="k" x1="1278.18" y1="978.18" x2="1280.82" y2="980.82"/>
<line class="k" x1="1272.9" y1="963.3" x2="1272.9" y2="964.9"/>
<path class="k" d="M1268.1 960.7 L1268.1 963.3 L1277.7 963.3 L1277.7 960.7"/>
<text class="t" x="582" y="192.15" font-size="17" text-anchor="middle">3050</text>
<text class="t" x="896.2" y="192.15" font-size="17" text-anchor="middle">3050</text>
<text class="t" x="998" y="192.15" font-size="17" text-anchor="middle">3050</text>
<text class="t" x="1323.8" y="192.15" font-size="17" text-anchor="middle">3050</text>
<text class="t" x="1425.3" y="192.15" font-size="17" text-anchor="middle">3050</text>
<text class="t" x="582" y="984.25" font-size="17" text-anchor="middle">3050</text>
<text class="t" x="925.8" y="981.75" font-size="17" text-anchor="middle">2030</text>
<text class="t" x="1367.2" y="981.55" font-size="17" text-anchor="middle">2030</text>
<text class="t" x="530.6" y="553.45" font-size="17" text-anchor="middle">5/0</text>
<text class="t" x="530.2" y="583.15" font-size="17" text-anchor="middle">CLOSET</text>
<text class="t" x="998.8" y="553.45" font-size="17" text-anchor="middle">6/0</text>
<text class="t" x="998.4" y="583.15" font-size="17" text-anchor="middle">CLOSET</text>
<text class="t" x="703.1" y="604.25" font-size="17" text-anchor="middle">2/8</text>
<text class="t" x="805.8" y="604.25" font-size="17" text-anchor="middle">2/8</text>
<text class="t" x="874.8" y="712.05" font-size="17" text-anchor="middle">2/8</text>
<text class="t" x="901.7" y="670.65" font-size="17" text-anchor="middle">FLAT CEILING</text>
<text class="t" x="853.9" y="921.95" font-size="17" text-anchor="middle">BF3</text>
<text class="t" x="1095" y="741.65" font-size="12.8" text-anchor="middle">WH</text>
<text class="t" x="1334.5" y="769.25" font-size="17" text-anchor="middle">B24</text>
<text class="t" x="1392.6" y="769.25" font-size="17" text-anchor="middle">B24</text>
<text class="t" x="1321.9" y="824.65" font-size="17" text-anchor="middle">FLAT</text>
<text class="t" x="1322.6" y="842.95" font-size="17" text-anchor="middle">CEILING</text>
<text class="t" x="1452.3" y="824.05" font-size="17" text-anchor="middle">WIRE &amp; PREPARE</text>
<text class="t" x="1451.8" y="842.65" font-size="17" text-anchor="middle">FOR MICROWAVE</text>
<text class="t" x="1301.3" y="862.45" font-size="17" text-anchor="middle">BEPF3-34</text>
<text class="t" x="1367.3" y="867.45" font-size="17" text-anchor="middle">SB30</text>
<text class="t" x="1469.2" y="861.65" font-size="17" text-anchor="middle">WF0.5</text>
<text class="t" x="1301.3" y="887.85" font-size="17" text-anchor="middle">DW</text>
<text class="t" x="1302" y="902.25" font-size="17" text-anchor="middle">SPACE</text>
<text class="t" x="1294.7" y="924.05" font-size="17" text-anchor="middle">W2430</text>
<text class="t" x="1417.6" y="887.75" font-size="17" text-anchor="middle">B</text>
<text class="t" x="1417.9" y="902.15" font-size="17" text-anchor="middle">12</text>
<text class="t" x="1422" y="916.65" font-size="17" text-anchor="middle">W0</text>
<text class="t" x="1421.5" y="931.65" font-size="17" text-anchor="middle">930</text>
<text class="t" x="1468.9" y="924.35" font-size="17" text-anchor="middle">W3018</text>
<text class="t" x="1521" y="916.75" font-size="17" text-anchor="middle">W</text>
<text class="t" x="1525.6" y="930.45" font-size="17" text-anchor="middle">1230</text>
<text class="t" x="1566.9" y="904.25" font-size="17" text-anchor="middle">WA</text>
<text class="t" x="1567.1" y="922.65" font-size="17" text-anchor="middle">2430</text>
<text class="t" x="1551.5" y="541.15" font-size="17" text-anchor="middle">CLOSET</text>
<text class="t" x="1551.9" y="593.45" font-size="17" text-anchor="middle">2/8</text>
<text class="t" x="1199.7" y="981.55" font-size="17" text-anchor="middle">3/0 9-LITE</text>
<text class="t" x="1199.7" y="1031.15" font-size="17" text-anchor="middle">4' X 4'</text>
<text class="t" x="1199.7" y="1050.25" font-size="17" text-anchor="middle">CONCRETE</text>
<text class="t" x="1199.7" y="1069.35" font-size="17" text-anchor="middle">PAD</text>
<text class="b" x="582" y="366.15" font-size="24" text-anchor="middle">BEDROOM 2</text>
<text class="b" x="582" y="391.55" font-size="20.4" text-anchor="middle">&quot;VAULTED CEILING&quot;</text>
<text class="b" x="947.7" y="366.15" font-size="24" text-anchor="middle">BEDROOM 1</text>
<text class="b" x="947.7" y="391.55" font-size="20.4" text-anchor="middle">&quot;VAULTED CEILING&quot;</text>
<text class="b" x="1374.1" y="360.05" font-size="24" text-anchor="middle">LIVING ROOM</text>
<text class="b" x="1374.1" y="386.45" font-size="20.4" text-anchor="middle">&quot;VAULTED CEILING&quot;</text>
<text class="b" x="1315.3" y="581.65" font-size="24" text-anchor="middle">DINING ROOM</text>
<text class="b" x="1315" y="607.05" font-size="20.4" text-anchor="middle">&quot;VAULTED CEILING&quot;</text>
<text class="b" x="901.1" y="648.25" font-size="24" text-anchor="middle">HALL</text>
<text class="b" x="582" y="767.65" font-size="24" text-anchor="middle">BEDROOM 3</text>
<text class="b" x="582" y="793.65" font-size="20.4" text-anchor="middle">&quot;VAULTED CEILING&quot;</text>
<text class="b" x="914.7" y="794.05" font-size="24" text-anchor="middle">BATH</text>
<text class="b" x="1322.3" y="802.25" font-size="24" text-anchor="middle">KITCHEN</text>
<text class="t" transform="translate(652.7 651.3) rotate(-90)" x="0" y="6.09" font-size="17" text-anchor="middle">2/8</text>
<text class="t" transform="translate(773.8 827) rotate(-90)" x="0" y="6.09" font-size="17" text-anchor="middle">5/0</text>
<text class="t" transform="translate(803.6 827) rotate(-90)" x="0" y="6.09" font-size="17" text-anchor="middle">CLOSET</text>
<text class="t" transform="translate(895 839) rotate(-90)" x="0" y="6.09" font-size="17" text-anchor="middle">VSB</text>
<text class="t" transform="translate(913.3 839) rotate(-90)" x="0" y="6.09" font-size="17" text-anchor="middle">24B</text>
<text class="t" transform="translate(895 896.7) rotate(-90)" x="0" y="6.09" font-size="17" text-anchor="middle">VSB</text>
<text class="t" transform="translate(913.3 896.7) rotate(-90)" x="0" y="6.09" font-size="17" text-anchor="middle">24B</text>
<text class="t" transform="translate(988.8 783.3) rotate(-90)" x="0" y="4.94" font-size="13.8" text-anchor="middle">60&quot;X30&quot; SHOWER</text>
<text class="t" transform="translate(1007 775) rotate(-90)" x="0" y="4.76" font-size="13.3" text-anchor="middle">SHOWER</text>
<text class="t" transform="translate(1022.2 774.8) rotate(-90)" x="0" y="4.76" font-size="13.3" text-anchor="middle">HEADER</text>
<text class="t" transform="translate(1067.1 846.6) rotate(-90)" x="0" y="6.09" font-size="17" text-anchor="middle">SHELF</text>
<text class="t" transform="translate(1103.4 809) rotate(-90)" x="0" y="6.09" font-size="17" text-anchor="middle">WASHER</text>
<text class="t" transform="translate(1103.4 881) rotate(-90)" x="0" y="6.09" font-size="17" text-anchor="middle">DRYER</text>
<text class="t" transform="translate(1201.1 846) rotate(-90)" x="0" y="6.09" font-size="17" text-anchor="middle">CASED OPENING</text>
<text class="t" transform="translate(1503.7 756.4) rotate(-90)" x="0" y="6.09" font-size="17" text-anchor="middle">WF1</text>
<text class="t" transform="translate(1551.3 755.9) rotate(-90)" x="0" y="6.09" font-size="17" text-anchor="middle">REF.</text>
<text class="t" transform="translate(1579.7 755.9) rotate(-90)" x="0" y="6.09" font-size="17" text-anchor="middle">W3612</text>
<text class="t" transform="translate(1549.7 825) rotate(-90)" x="0" y="6.09" font-size="17" text-anchor="middle">B18</text>
<text class="t" transform="translate(1579.7 838.2) rotate(-90)" x="0" y="6.09" font-size="17" text-anchor="middle">W3030</text>
<text class="t" transform="translate(1492.7 551.6) rotate(-90)" x="0" y="6.09" font-size="17" text-anchor="middle">2x6</text>
<text class="t" transform="translate(1638.2 314.3) rotate(-90)" x="0" y="6.09" font-size="17" text-anchor="middle">3050</text>
<text class="t" transform="translate(1638.2 416.3) rotate(-90)" x="0" y="6.09" font-size="17" text-anchor="middle">3050</text>
<text class="t" transform="translate(1636.2 646) rotate(-90)" x="0" y="6.09" font-size="17" text-anchor="middle">3/0 2-LITE</text>
<text class="t" transform="translate(1685.6 646.2) rotate(-90)" x="0" y="6.09" font-size="17" text-anchor="middle">4' X 4'</text>
<text class="t" transform="translate(1704.9 646.2) rotate(-90)" x="0" y="6.09" font-size="17" text-anchor="middle">CONCRETE</text>
<text class="t" transform="translate(1723.1 646.6) rotate(-90)" x="0" y="6.09" font-size="17" text-anchor="middle">PAD</text>
<text class="t" transform="translate(1541 880.9) rotate(-45)" x="0" y="6.09" font-size="17" text-anchor="middle">BLS36</text>
</svg>
</body></html>
